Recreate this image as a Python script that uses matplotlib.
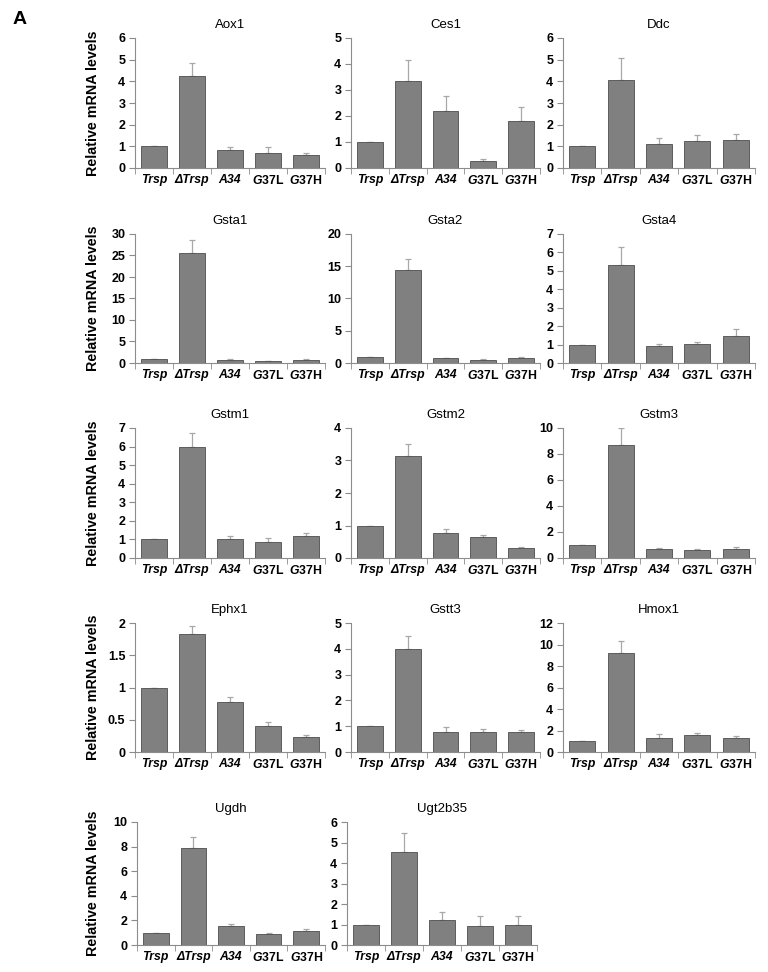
import matplotlib
matplotlib.use("Agg")
import matplotlib.pyplot as plt

plt.rcParams["font.family"] = ["Liberation Sans", "DejaVu Sans"]
plt.rcParams["mathtext.fontset"] = "custom"
plt.rcParams["mathtext.it"] = "Liberation Sans:style=italic:weight=bold"
plt.rcParams["mathtext.rm"] = "Liberation Sans:weight=bold"
plt.rcParams["mathtext.bf"] = "Liberation Sans:weight=bold"

groups = ["Trsp", "ΔTrsp", "A34", "G37L", "G37H"]

genes = ["Aox1", "Ces1", "Ddc",
         "Gsta1", "Gsta2", "Gsta4",
         "Gstm1", "Gstm2", "Gstm3",
         "Ephx1", "Gstt3", "Hmox1",
         "Ugdh", "Ugt2b35"]

means = {
    "Aox1":    [1.0, 4.25, 0.82, 0.70, 0.58],
    "Ces1":    [1.0, 3.35, 2.18, 0.26, 1.80],
    "Ddc":     [1.0, 4.05, 1.10, 1.23, 1.29],
    "Gsta1":   [1.0, 25.6, 0.80, 0.35, 0.75],
    "Gsta2":   [1.0, 14.4, 0.70, 0.50, 0.85],
    "Gsta4":   [1.0, 5.31, 0.91, 1.02, 1.45],
    "Gstm1":   [1.0, 5.95, 1.00, 0.88, 1.19],
    "Gstm2":   [1.0, 3.15, 0.76, 0.65, 0.30],
    "Gstm3":   [1.0, 8.69, 0.70, 0.65, 0.72],
    "Ephx1":   [1.0, 1.83, 0.77, 0.41, 0.23],
    "Gstt3":   [1.0, 3.99, 0.79, 0.77, 0.77],
    "Hmox1":   [1.0, 9.20, 1.33, 1.54, 1.27],
    "Ugdh":    [1.0, 7.89, 1.51, 0.91, 1.10],
    "Ugt2b35": [1.0, 4.53, 1.23, 0.95, 0.98],
}

errs = {
    "Aox1":    [0.0, 0.60, 0.14, 0.27, 0.10],
    "Ces1":    [0.0, 0.80, 0.58, 0.09, 0.55],
    "Ddc":     [0.0, 1.03, 0.28, 0.31, 0.28],
    "Gsta1":   [0.0, 3.1, 0.12, 0.05, 0.10],
    "Gsta2":   [0.0, 1.7, 0.12, 0.08, 0.10],
    "Gsta4":   [0.0, 1.00, 0.11, 0.11, 0.39],
    "Gstm1":   [0.0, 0.80, 0.20, 0.18, 0.13],
    "Gstm2":   [0.0, 0.37, 0.12, 0.05, 0.03],
    "Gstm3":   [0.0, 1.31, 0.07, 0.05, 0.13],
    "Ephx1":   [0.0, 0.13, 0.09, 0.05, 0.04],
    "Gstt3":   [0.0, 0.49, 0.17, 0.11, 0.10],
    "Hmox1":   [0.0, 1.14, 0.30, 0.22, 0.21],
    "Ugdh":    [0.0, 0.86, 0.19, 0.08, 0.20],
    "Ugt2b35": [0.0, 0.91, 0.37, 0.47, 0.44],
}

ymax = {"Aox1": 6, "Ces1": 5, "Ddc": 6, "Gsta1": 30, "Gsta2": 20, "Gsta4": 7,
        "Gstm1": 7, "Gstm2": 4, "Gstm3": 10, "Ephx1": 2, "Gstt3": 5, "Hmox1": 12,
        "Ugdh": 10, "Ugt2b35": 6}
ystep = {"Aox1": 1, "Ces1": 1, "Ddc": 1, "Gsta1": 5, "Gsta2": 5, "Gsta4": 1,
         "Gstm1": 1, "Gstm2": 1, "Gstm3": 2, "Ephx1": 0.5, "Gstt3": 1, "Hmox1": 2,
         "Ugdh": 2, "Ugt2b35": 1}

W, H = 768, 972
fig = plt.figure(figsize=(W / 100, H / 100), dpi=100)

rows_px = [(38, 168), (234, 363), (428, 558), (623, 752), (822, 945)]
cols_px = [(135, 325), (351, 540), (563, 755)]
cols_last = [(137, 325), (347, 537)]

axcol = "#8c8c8c"
tick_labels = ["Trsp", "ΔTrsp", "A34", r"$\mathit{G37}$L", r"$\mathit{G37}$H"]

for i, g in enumerate(genes):
    r, c = divmod(i, 3)
    top, bot = rows_px[r]
    x0, x1 = (cols_last if r == 4 else cols_px)[c]
    ax = fig.add_axes([x0 / W, 1 - bot / H, (x1 - x0) / W, (bot - top) / H])
    xs = range(len(groups))
    ax.bar(xs, means[g], width=0.68, color="#808080", edgecolor="#4d4d4d",
           linewidth=0.6, zorder=2)
    ax.errorbar(xs, means[g], yerr=[[0] * 5, errs[g]], fmt="none",
                ecolor="#a8a8a8", elinewidth=0.9, capsize=2.5, capthick=0.9, zorder=1)
    ax.set_xlim(-0.5, 4.5)
    ax.set_ylim(0, ymax[g])
    n = int(round(ymax[g] / ystep[g]))
    yt = [k * ystep[g] for k in range(n + 1)]
    ax.set_yticks(yt)
    ax.set_yticklabels([("%g" % v) for v in yt], fontsize=9, fontweight="bold")
    ax.set_xticks(list(xs))
    ax.set_xticklabels(tick_labels, fontsize=8.8, fontweight="bold")
    for k, lbl in enumerate(ax.get_xticklabels()):
        if k < 3:
            lbl.set_fontstyle("italic")
    ax.set_xticks([k - 0.5 for k in range(6)], minor=True)
    ax.tick_params(axis="x", which="major", length=0, pad=4)
    ax.tick_params(axis="x", which="minor", length=4, color=axcol, direction="out")
    ax.tick_params(axis="y", length=4, color=axcol, direction="out", pad=3)
    for s in ("top", "right"):
        ax.spines[s].set_visible(False)
    for s in ("left", "bottom"):
        ax.spines[s].set_color(axcol)
        ax.spines[s].set_linewidth(0.8)
    ax.set_title(g, fontsize=9.5, pad=7)
    if c == 0:
        fig.text(93 / W, 1 - (top + bot) / 2 / H, "Relative mRNA levels",
                 rotation=90, ha="center", va="center", fontsize=10.3, fontweight="bold")

fig.text(20 / W, 1 - 20 / H, "A", fontsize=14, fontweight="bold", ha="center", va="center")

fig.savefig("out.png", dpi=100)
